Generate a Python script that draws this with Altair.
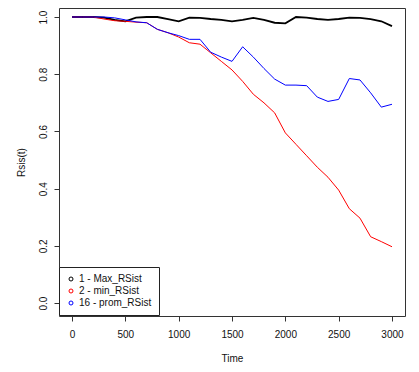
import altair as alt
import pandas as pd

time = list(range(0, 3001, 100))
max_rsist = [1.0, 1.0, 1.0, 0.998, 0.99, 0.985, 0.998, 1.0, 1.0, 0.993, 0.985,
             0.998, 0.997, 0.993, 0.99, 0.985, 0.99, 0.997, 0.99, 0.98, 0.978,
             1.0, 0.998, 0.993, 0.99, 0.993, 0.998, 0.997, 0.993, 0.985, 0.968]
min_rsist = [1.0, 1.0, 1.0, 0.993, 0.987, 0.985, 0.982, 0.98, 0.957, 0.945, 0.93,
             0.91, 0.905, 0.875, 0.845, 0.815, 0.775, 0.73, 0.70, 0.665, 0.595,
             0.555, 0.515, 0.475, 0.44, 0.395, 0.33, 0.297, 0.232, 0.215, 0.197]
prom_rsist = [1.0, 1.0, 1.0, 1.0, 0.997, 0.99, 0.983, 0.98, 0.957, 0.945, 0.935,
              0.922, 0.922, 0.877, 0.86, 0.845, 0.896, 0.86, 0.82, 0.783, 0.762,
              0.762, 0.76, 0.72, 0.705, 0.712, 0.785, 0.78, 0.735, 0.685, 0.695]

series_names = ["1 - Max_RSist", "2 - min_RSist", "16 - prom_RSist"]
series_colors = ["#000000", "#ff0000", "#0000ff"]
x_ticks = [0, 500, 1000, 1500, 2000, 2500, 3000]
y_ticks = [0.0, 0.2, 0.4, 0.6, 0.8, 1.0]

rows = []
for name, vals in zip(series_names, [max_rsist, min_rsist, prom_rsist]):
    for t, v in zip(time, vals):
        rows.append({"time": t, "value": v, "series": name})
df = pd.DataFrame(rows)

FONT = "Liberation Sans"

x_enc = alt.X("time:Q",
              scale=alt.Scale(domain=[-122, 3122], nice=False, zero=False),
              axis=alt.Axis(values=x_ticks, format="d", title="Time",
                            labelPadding=8, titlePadding=14))
y_enc = alt.Y("value:Q",
              scale=alt.Scale(domain=[-0.045, 1.0315], nice=False, zero=False),
              axis=alt.Axis(values=y_ticks, format=".1f", title="Rsis(t)",
                            labelAngle=270, labelPadding=6, titlePadding=12))
color_enc = alt.Color("series:N",
                      scale=alt.Scale(domain=series_names, range=series_colors),
                      legend=alt.Legend(orient="none", legendX=0, legendY=259,
                                        title=None, strokeColor="#222",
                                        fillColor="white", padding=7,
                                        symbolType="circle", symbolSize=16,
                                        symbolStrokeWidth=1,
                                        symbolFillColor="white",
                                        labelFont=FONT, labelFontSize=10,
                                        labelColor="#111", labelOffset=3,
                                        rowPadding=2, cornerRadius=0))

base = alt.Chart(df)
black = base.transform_filter(alt.datum.series == series_names[0]).mark_line(
    strokeWidth=1.8, clip=True).encode(x=x_enc, y=y_enc, color=color_enc)
others = base.transform_filter(alt.datum.series != series_names[0]).mark_line(
    strokeWidth=1, clip=True).encode(x=x_enc, y=y_enc, color=color_enc,
                                     detail="series:N")

chart = alt.layer(black, others).properties(
    width=346, height=308,
    autosize=alt.AutoSizeParams(type="none"),
    padding={"left": 51, "top": 0, "right": 6, "bottom": 50},
    background="white",
).configure_view(
    stroke="#333", strokeWidth=1
).configure_axis(
    domain=False, grid=False, tickColor="#333", tickSize=5,
    labelFont=FONT, labelFontSize=10, labelColor="#111",
    titleFont=FONT, titleFontSize=10, titleFontWeight="normal", titleColor="#111"
)

chart.save("out.html", embed_options={"renderer": "svg", "actions": False})
